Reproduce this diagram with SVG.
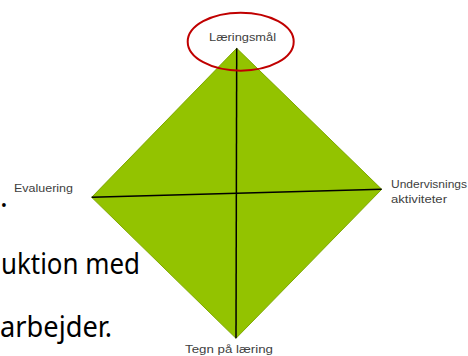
<svg xmlns="http://www.w3.org/2000/svg" width="468" height="356" viewBox="0 0 468 356">
<style>
.lbl{font-family:"Liberation Sans",Arial,sans-serif;font-size:10.5px;fill:#404040}
.bg{font-family:"Noto Sans","Open Sans",sans-serif;font-size:29px;fill:#000}
.ln{stroke:#000;stroke-width:1.5;fill:none}
</style>
<rect width="468" height="356" fill="#fff"/>
<g id="background-text">
<text class="bg" x="0" y="207">.</text>
<text class="bg" x="1" y="274" textLength="139" lengthAdjust="spacingAndGlyphs">uktion med</text>
<text class="bg" x="0" y="337" textLength="112" lengthAdjust="spacingAndGlyphs">arbejder.</text>
</g>
<g id="diamond">
<polygon points="236.7,48.3 381.7,189.3 236,338.3 91.7,197.3" fill="#93c300" stroke="#7ea800" stroke-width="1"/>
</g>
<g id="connectors">
<line class="ln" x1="236.7" y1="48.3" x2="236" y2="338.3"/>
<line class="ln" x1="91.7" y1="197.3" x2="381.7" y2="189.3"/>
</g>
<g id="node-laeringsmaal">
<ellipse cx="240.7" cy="41.7" rx="53" ry="29" fill="none" stroke="#c00000" stroke-width="2"/>
<text class="lbl" x="209" y="41" textLength="67" lengthAdjust="spacingAndGlyphs">Læringsmål</text>
</g>
<g id="node-evaluering">
<text class="lbl" x="14" y="192" textLength="59" lengthAdjust="spacingAndGlyphs">Evaluering</text>
</g>
<g id="node-undervisning">
<text class="lbl" x="391" y="188" textLength="76" lengthAdjust="spacingAndGlyphs">Undervisnings</text>
<text class="lbl" x="391" y="203" textLength="56" lengthAdjust="spacingAndGlyphs">aktiviteter</text>
</g>
<g id="node-tegn">
<text class="lbl" x="185" y="353" textLength="88" lengthAdjust="spacingAndGlyphs">Tegn på læring</text>
</g>
</svg>
